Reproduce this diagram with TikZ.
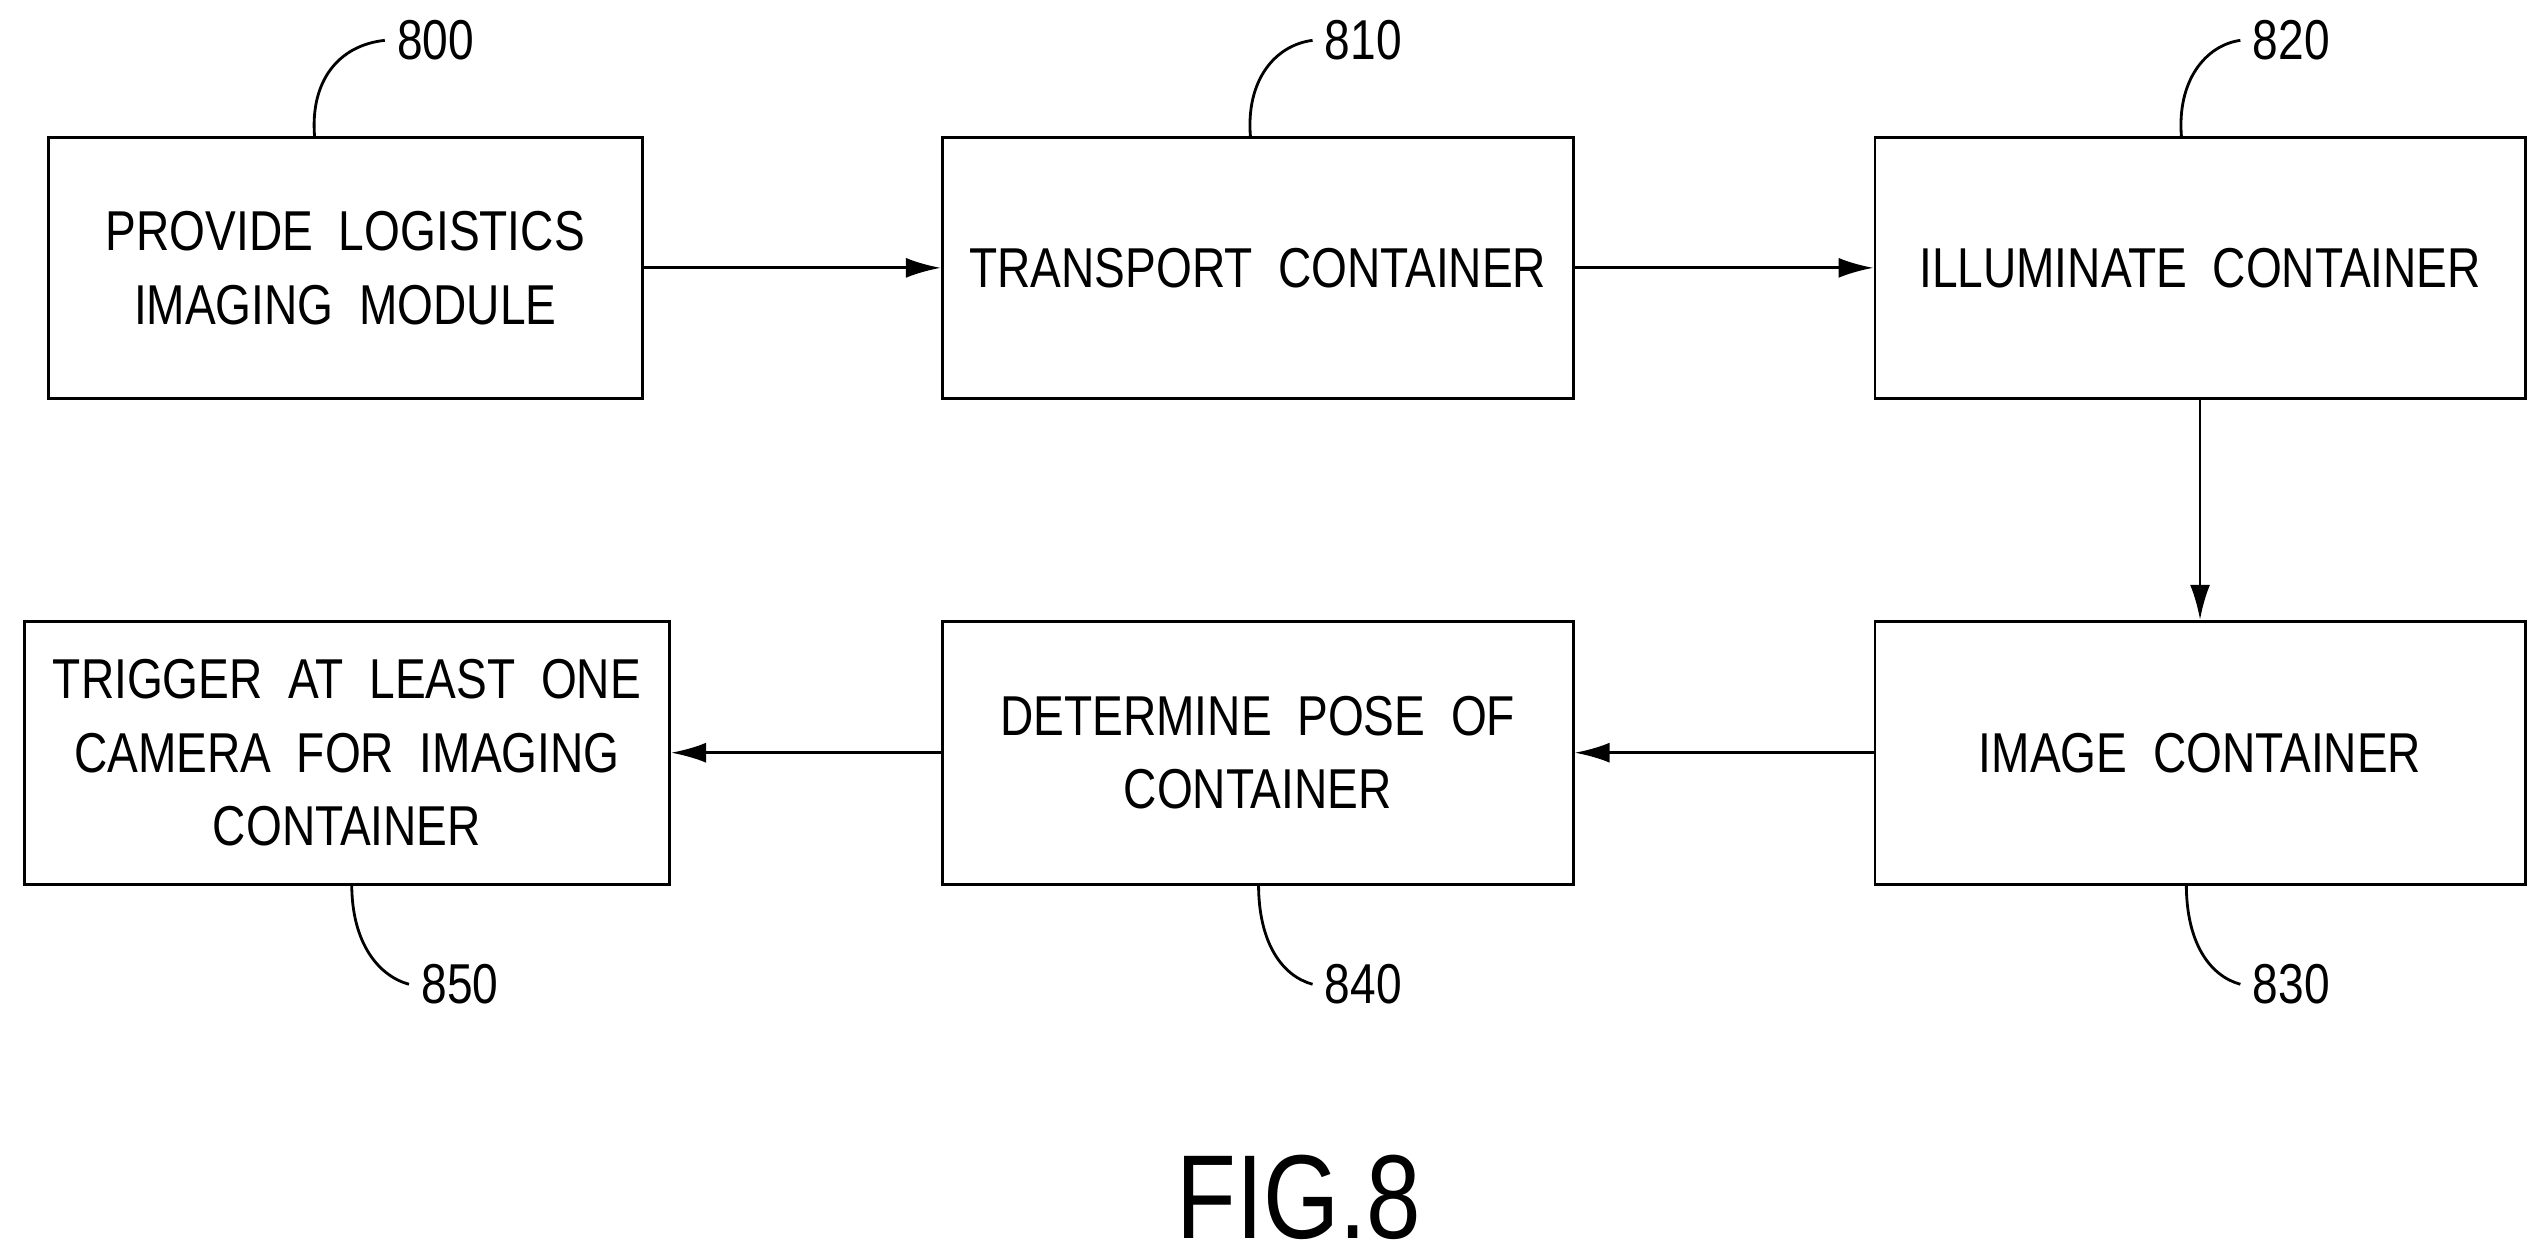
\documentclass[tikz,border=0pt]{standalone}
\usepackage{fontspec}
\setmainfont[FakeStretch=0.82]{Liberation Sans}
\usetikzlibrary{arrows.meta}
\tikzset{stepbox/.style={draw, thick, rectangle, align=center, font=\fontsize{16}{21}\selectfont, inner sep=0pt},
	ref/.style={font=\fontsize{16}{20}\selectfont},
	flow/.style={thick, -{Latex[length=3.5mm, width=2mm]}}
}
\begin{document}
\begin{tikzpicture}[x=0.01614cm, y=-0.01614cm]
	\useasboundingbox (0,0) rectangle (1568,778);
	% steps
	\node[stepbox, minimum width=368*0.01614cm, minimum height=162*0.01614cm](800) at (214,166) {PROVIDE\ \ LOGISTICS\\IMAGING\ \ MODULE};
	\node[stepbox, minimum width=391*0.01614cm, minimum height=162*0.01614cm](810) at (779.5,166) {TRANSPORT\ \ CONTAINER};
	\node[stepbox, minimum width=403*0.01614cm, minimum height=162*0.01614cm](820) at (1363.5,166) {ILLUMINATE\ \ CONTAINER};
	\node[stepbox, minimum width=403*0.01614cm, minimum height=163*0.01614cm](830) at (1363.5,466.5) {IMAGE\ \ CONTAINER};
	\node[stepbox, minimum width=391*0.01614cm, minimum height=163*0.01614cm](840) at (779.5,466.5) {DETERMINE\ \ POSE\ \ OF\\CONTAINER};
	\node[stepbox, minimum width=400*0.01614cm, minimum height=163*0.01614cm](850) at (215,466.5) {TRIGGER\ \ AT\ \ LEAST\ \ ONE\\CAMERA\ \ FOR\ \ IMAGING\\CONTAINER};
	
	% arrows
	\draw[flow] (800.east) -- (810.west);
	\draw[flow] (810.east) -- (820.west);
	\draw[flow] (820.south) -- (830.north);
	\draw[flow] (830.west) -- (840.east);
	\draw[flow] (840.west) -- (850.east);
	
	% reference numerals
	\node[ref] (r800) at (270,25) {800};
	\node[ref] (r810) at (845,25) {810};
	\node[ref] (r820) at (1420,25) {820};
	\node[ref] (r830) at (1420,610) {830};
	\node[ref] (r840) at (845,610) {840};
	\node[ref] (r850) at (285,610) {850};
	\draw[thick] (195,85) .. controls (192,50) and (210,28) .. (r800.west);
	\draw[thick] (775,85) .. controls (772,50) and (790,28) .. (r810.west);
	\draw[thick] (1352,85) .. controls (1349,50) and (1367,28) .. (r820.west);
	\draw[thick] (1355,548) .. controls (1355,585) and (1370,605) .. (r830.west);
	\draw[thick] (780,548) .. controls (780,585) and (795,605) .. (r840.west);
	\draw[thick] (218,548) .. controls (218,585) and (235,605) .. (r850.west);
	
	\node[font=\fontsize{34}{40}\selectfont] (fig) at (805,742) {FIG.8};
\end{tikzpicture}
\end{document}
